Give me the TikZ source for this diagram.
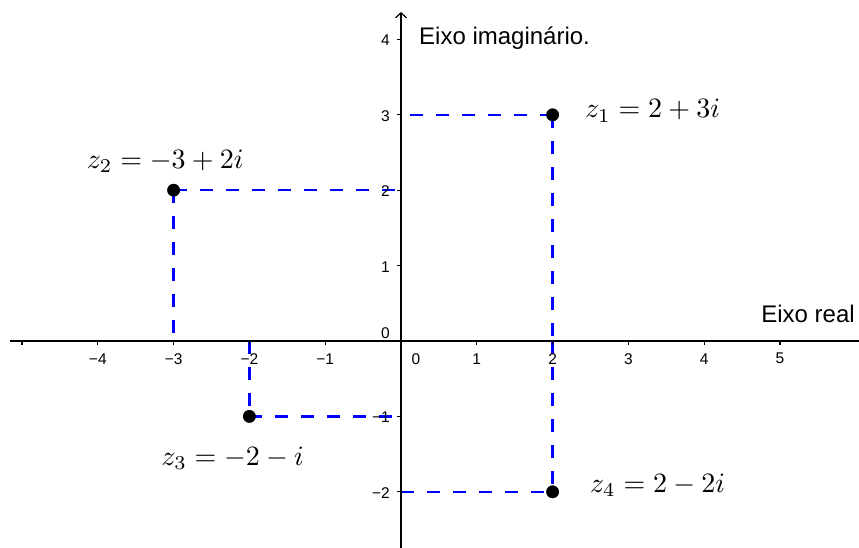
\documentclass[tikz,border=0pt]{standalone}
\usepackage{graphicx}
\usepackage{fontspec}
\newfontfamily\arial{Liberation Sans}
\usetikzlibrary{arrows.meta}
\newcommand{\bigmath}[1]{\scalebox{2.8}{\fontsize{10}{12}\selectfont$#1$}}
\begin{document}
\begin{tikzpicture}[x=75.8pt,y=75.4pt,
  axisline/.style={line width=1.3pt,black},
  tickmark/.style={line width=1.2pt,black},
  ticklbl/.style={font=\arial\fontsize{15.5}{18}\selectfont,inner sep=0pt},
  guide/.style={blue,line width=2.4pt,dash pattern=on 13pt off 13pt},
  dot/.style={circle,fill=black,inner sep=0pt,minimum size=12.6pt},
  zlbl/.style={inner sep=0pt,anchor=base west},
  axlbl/.style={font=\arial\fontsize{24}{28}\selectfont,inner sep=0pt}]
\useasboundingbox (-401pt,-206pt) rectangle (458pt,341pt);

% named coordinates
\coordinate (xl) at (-5.16,0);
\coordinate (xr) at (6.05,0);
\coordinate (yb) at (0,-2.74);
\coordinate (yt) at (0,4.363);
\coordinate (y3) at (0,3);
\coordinate (y2) at (0,2);
\coordinate (ym1) at (0,-1);
\coordinate (ym2) at (0,-2);
\coordinate (x2) at (2,0);
\coordinate (xm2) at (-2,0);
\coordinate (xm3) at (-3,0);

% points (placed first so guides can refer to them)
\node[dot] (z1) at (2,3) {};
\node[dot] (z2) at (-3,2) {};
\node[dot] (z3) at (-2,-1) {};
\node[dot] (z4) at (2,-2) {};

% dashed guides
\draw[guide] (z1.center) -- (y3);
\draw[guide] (z1.center) -- (x2);
\draw[guide] (z2.center) -- (y2);
\draw[guide] (z2.center) -- (xm3);
\draw[guide] (xm2) -- (z3.center);
\draw[guide] (z3.center) -- (ym1);
\draw[guide] (ym2) -- (z4.center);
\draw[guide] (x2) -- (z4.center);

% axes
\draw[axisline] (xl) -- (xr);
\draw[axisline,-{Straight Barb[length=5pt,width=11pt,line width=1.2pt]}] (yb) -- (yt);

% x ticks
\foreach \x in {-5,-4,-3,-2,-1,1,2,3,4,5}
  \draw[tickmark] (\x,0) -- ++(0,-4pt);
\foreach \x/\l in {-4/−4,-3/−3,-2/−2,-1/−1,1/1,2/2,3/3,4/4,5/5}
  \node[ticklbl] (xlab\x) at (\x,-0.235) {\l};
\node[ticklbl] (xlab0) at (0.198,-0.235) {0};

% y ticks
\foreach \y in {-2,-1,1,2,3,4}
  \draw[tickmark] (0,\y) -- ++(-4pt,0);
\foreach \y/\l in {-2/−2,-1/−1,1/1,2/2,3/3,4/4}
  \node[ticklbl,anchor=east] (ylab\y) at (-0.145,\y-0.015) {\l};
\node[ticklbl,anchor=base east] (ylab0) at (-0.145,0.027) {0};

% redraw dots on top
\fill (z1) circle (6.3pt);
\fill (z2) circle (6.3pt);
\fill (z3) circle (6.3pt);
\fill (z4) circle (6.3pt);

% axis labels
\node[axlbl,anchor=base west] (imlbl) at (0.2375,3.926) {Eixo imaginário.};
\node[axlbl,anchor=base east] (relbl) at (5.989,0.252) {Eixo real};

% point labels
\node[zlbl] (l1) at (2.427,2.958) {\bigmath{z_1=2+3i}};
\node[zlbl] (l2) at (-4.146,2.294) {\bigmath{z_2=-3+2i}};
\node[zlbl] (l3) at (-3.165,-1.65) {\bigmath{z_3=-2-i}};
\node[zlbl] (l4) at (2.493,-2.003) {\bigmath{z_4=2-2i}};
\end{tikzpicture}
\end{document}
